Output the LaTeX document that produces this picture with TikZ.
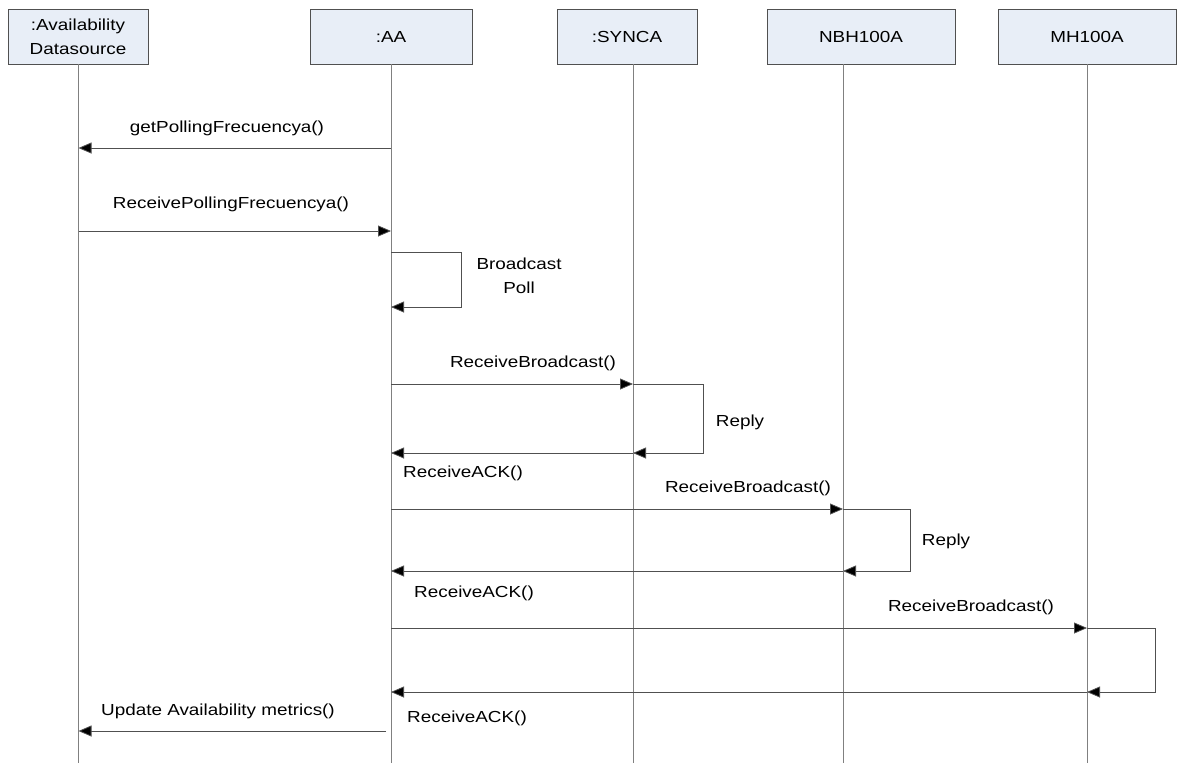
\documentclass[tikz,border=0pt]{standalone}
\usepackage{fontspec}
\newfontfamily\diagfont{Liberation Sans}[FakeStretch=1.18]
\usetikzlibrary{arrows.meta}
\definecolor{boxfill}{HTML}{E8EEF7}
\definecolor{boxline}{HTML}{505050}
\definecolor{lifegray}{HTML}{808080}
\definecolor{msggray}{HTML}{505050}

\begin{document}
\begin{tikzpicture}[x=1pt,y=-1pt,
  obj/.style={draw=boxline, fill=boxfill, line width=0.8pt, minimum height=55pt,
              inner sep=0pt, align=center,
              font=\diagfont\fontsize{16}{24}\selectfont},
  life/.style={draw=lifegray, line width=0.8pt},
  msg/.style={draw=msggray, line width=0.8pt,
              -{Triangle[length=13pt,width=11pt,fill=black]}},
  loopline/.style={draw=msggray, line width=0.8pt},
  lbl/.style={inner sep=0pt, align=center,
              font=\diagfont\fontsize{16}{24}\selectfont}]
\useasboundingbox (0,0) rectangle (1177,763);

% participants
\node[obj, minimum width=140pt] (ds)   at (78,36.5)   {:Availability\\Datasource};
\node[obj, minimum width=162pt] (aa)   at (391,36.5)  {:AA};
\node[obj, minimum width=140pt] (sy)   at (627,36.5)  {:SYNCA};
\node[obj, minimum width=188pt] (nbh)  at (861,36.5)  {NBH100A};
\node[obj, minimum width=178pt] (mh)   at (1087,36.5) {MH100A};

% lifelines
\coordinate (dsT) at (78.5,64);   \coordinate (dsB) at (78.5,763);
\coordinate (aaT) at (391,64);    \coordinate (aaB) at (391,763);
\coordinate (syT) at (633,64);    \coordinate (syB) at (633,763);
\coordinate (nbT) at (843,64);    \coordinate (nbB) at (843,763);
\coordinate (mhT) at (1087,64);   \coordinate (mhB) at (1087,763);
\foreach \t/\b in {dsT/dsB, aaT/aaB, syT/syB, nbT/nbB, mhT/mhB}
  \draw[life] (\t) -- (\b);

% message end points on the lifelines
\coordinate (a1) at (391,148);  \coordinate (d1) at (78.5,148);
\coordinate (d2) at (78.5,231); \coordinate (a2) at (391,231);
\coordinate (a3) at (391,252);  \coordinate (l1a) at (461,252);
\coordinate (l1b) at (461,307); \coordinate (a4) at (391,307);
\coordinate (a5) at (391,384);  \coordinate (s5) at (633,384);
\coordinate (l2a) at (703,384); \coordinate (l2b) at (703,453);
\coordinate (s6) at (633,453);  \coordinate (a6) at (391,453);
\coordinate (a7) at (391,509);  \coordinate (n7) at (843,509);
\coordinate (l3a) at (910,509); \coordinate (l3b) at (910,571);
\coordinate (n8) at (843,571);  \coordinate (a8) at (391,571);
\coordinate (a9) at (391,628);  \coordinate (m9) at (1087,628);
\coordinate (l4a) at (1155,628);\coordinate (l4b) at (1155,692);
\coordinate (m10) at (1087,692);\coordinate (a10) at (391,692);
\coordinate (a11) at (386,731); \coordinate (d11) at (78.5,731);

% messages
\draw[msg] (a1) -- (d1);
\node[lbl] (t1) at (227,128) {getPollingFrecuencya()};
\draw[msg] (d2) -- (a2);
\node[lbl] (t2) at (231,204) {ReceivePollingFrecuencya()};

\draw[msg] (a3) -- (l1a) -- (l1b) -- (a4);
\node[lbl] (t3) at (519,276) {Broadcast\\Poll};

\draw[msg] (a5) -- (s5);
\node[lbl] (t4) at (533,363) {ReceiveBroadcast()};
\draw[msg] (s5) -- (l2a) -- (l2b) -- (s6);
\node[lbl] (t5) at (740,422) {Reply};
\draw[msg] (s6) -- (a6);
\node[lbl] (t6) at (463,473) {ReceiveACK()};

\draw[msg] (a7) -- (n7);
\node[lbl] (t7) at (748,488) {ReceiveBroadcast()};
\draw[msg] (n7) -- (l3a) -- (l3b) -- (n8);
\node[lbl] (t8) at (946,541) {Reply};
\draw[msg] (n8) -- (a8);
\node[lbl] (t9) at (474,593) {ReceiveACK()};

\draw[msg] (a9) -- (m9);
\node[lbl] (t10) at (971,607) {ReceiveBroadcast()};
\draw[msg] (m9) -- (l4a) -- (l4b) -- (m10);
\draw[msg] (m10) -- (a10);
\node[lbl] (t11) at (467,718) {ReceiveACK()};

\draw[msg] (a11) -- (d11);
\node[lbl] (t12) at (218,711) {Update Availability metrics()};
\end{tikzpicture}
\end{document}
